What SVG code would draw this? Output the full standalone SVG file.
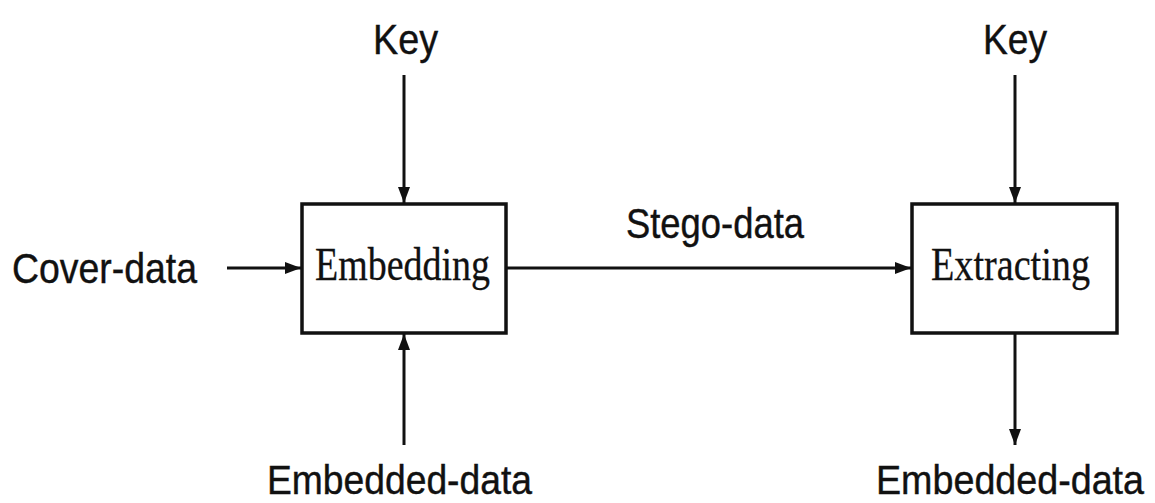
<svg xmlns="http://www.w3.org/2000/svg" width="1155" height="503" viewBox="0 0 1155 503">
  <style>
    .lbl { font-family: "Liberation Sans", Arial, sans-serif; font-size: 42px; fill: #111; stroke: #111; stroke-width: 0.4; }
    .low { font-size: 37.5px; }
    .box { fill: #fff; stroke: #111; stroke-width: 3.5; }
    .boxtxt { font-family: "Liberation Serif", "Times New Roman", serif; font-size: 46px; fill: #111; stroke: #111; stroke-width: 0.3; }
    .wire { stroke: #111; stroke-width: 3; fill: none; marker-end: url(#head); }
  </style>
  <defs>
    <marker id="head" viewBox="0 0 16 12" refX="16" refY="6" markerWidth="16" markerHeight="12" markerUnits="userSpaceOnUse" orient="auto">
      <path d="M0,0 L16,6 L0,12 Z" fill="#111"/>
    </marker>
  </defs>

  <!-- connectors -->
  <g id="connectors">
    <line class="wire" x1="404" y1="75" x2="404" y2="203"/>
    <line class="wire" x1="227" y1="268" x2="301" y2="268"/>
    <line class="wire" x1="404" y1="445" x2="404" y2="334"/>
    <line class="wire" x1="507" y1="268" x2="911" y2="268"/>
    <line class="wire" x1="1015" y1="75" x2="1015" y2="203"/>
    <line class="wire" x1="1015" y1="334" x2="1015" y2="445"/>
  </g>

  <g id="embedding">
    <rect class="box" x="302" y="204" width="204" height="129"/>
    <text class="boxtxt" x="315" y="280" textLength="175" lengthAdjust="spacingAndGlyphs">Embedding</text>
  </g>

  <g id="extracting">
    <rect class="box" x="912" y="204" width="205" height="129"/>
    <text class="boxtxt" x="931" y="280" textLength="159" lengthAdjust="spacingAndGlyphs">Extracting</text>
  </g>

  <g id="key-in">
    <text class="lbl" x="373" y="54" textLength="65" lengthAdjust="spacingAndGlyphs">Key</text>
  </g>
  <g id="key-out">
    <text class="lbl" x="983" y="54" textLength="64" lengthAdjust="spacingAndGlyphs">Key</text>
  </g>
  <g id="cover-data">
    <text class="lbl" x="12" y="283" textLength="185" lengthAdjust="spacingAndGlyphs">Cover-data</text>
  </g>
  <g id="stego-data">
    <text class="lbl" x="626" y="238" textLength="178" lengthAdjust="spacingAndGlyphs">Stego-data</text>
  </g>
  <!-- bottom labels: slightly taller glyphs via a vertical stretch -->
  <g id="embedded-data-in" transform="translate(267,494) scale(1,1.1)">
    <text class="lbl low" x="0" y="0" textLength="265" lengthAdjust="spacingAndGlyphs">Embedded-data</text>
  </g>
  <g id="embedded-data-out" transform="translate(876,494) scale(1,1.1)">
    <text class="lbl low" x="0" y="0" textLength="268" lengthAdjust="spacingAndGlyphs">Embedded-data</text>
  </g>
</svg>
